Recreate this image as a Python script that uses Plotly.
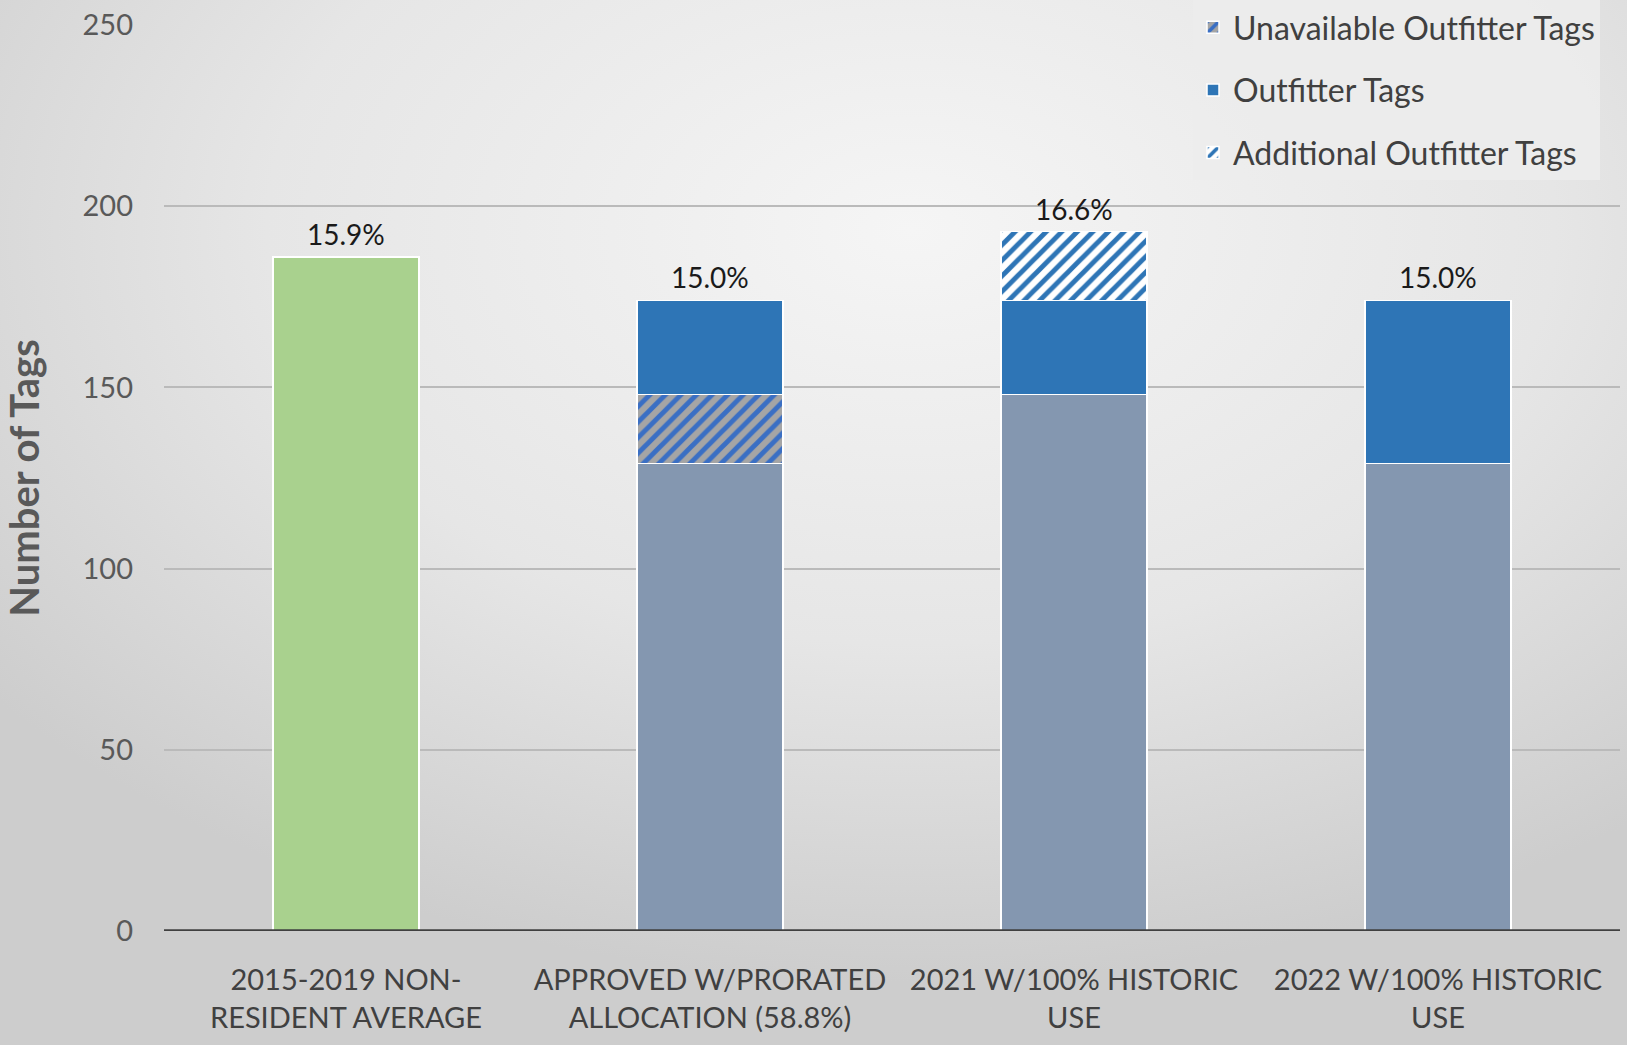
import base64
import plotly.graph_objects as go

# ---- data ----
categories = [
    "2015-2019 NON-<br>RESIDENT AVERAGE",
    "APPROVED W/PRORATED<br>ALLOCATION (58.8%)",
    "2021 W/100% HISTORIC<br>USE",
    "2022 W/100% HISTORIC<br>USE",
]
nonresident_avg = [186, None, None, None]
base_tags = [None, 129, 148, 129]
unavailable_outfitter = [None, 19, None, None]
outfitter_tags = [None, 26, 26, 45]
additional_outfitter = [None, None, 19, None]
pct_labels = ["15.9%", "15.0%", "16.6%", "15.0%"]
y_ticks = [0, 50, 100, 150, 200, 250]

series = [nonresident_avg, base_tags, unavailable_outfitter, outfitter_tags, additional_outfitter]
totals = [sum(s[i] or 0 for s in series) for i in range(len(categories))]

W, H = 1627, 1045
FONT = "Lato"

svg = f"""<svg xmlns='http://www.w3.org/2000/svg' width='{W}' height='{H}' preserveAspectRatio='none'>
<defs><radialGradient id='g' cx='0.56' cy='0.22' r='0.72'>
<stop offset='0' stop-color='#f5f5f5'/><stop offset='0.55' stop-color='#e6e6e6'/><stop offset='1' stop-color='#cdcdcd'/>
</radialGradient></defs><rect width='{W}' height='{H}' fill='url(#g)'/></svg>"""
bg_src = "data:image/svg+xml;base64," + base64.b64encode(svg.encode()).decode()

line = dict(color="white", width=1.5)
fig = go.Figure()
fig.add_bar(x=categories, y=nonresident_avg, marker=dict(color="#a9d18e", line=line),
            showlegend=False, name="2015-2019 Non-Resident Average")
fig.add_bar(x=categories, y=base_tags, marker=dict(color="#8497b0", line=line),
            showlegend=False, name="Tags")
fig.add_bar(x=categories, y=unavailable_outfitter, name="Unavailable Outfitter Tags",
            legendgroup="a",
            marker=dict(color="#a5a5a5", line=line,
                        pattern=dict(shape="/", fgcolor="#3a6fc4", bgcolor="#a5a5a5",
                                     size=11, solidity=0.45, fillmode="replace")))
fig.add_bar(x=categories, y=outfitter_tags, name="Outfitter Tags", legendgroup="b",
            marker=dict(color="#2e75b6", line=line))
fig.add_bar(x=categories, y=additional_outfitter, name="Additional Outfitter Tags",
            legendgroup="c",
            marker=dict(color="white", line=line,
                        pattern=dict(shape="/", fgcolor="#2e75b6", bgcolor="white",
                                     size=11, solidity=0.45, fillmode="replace")))

annotations = [
    dict(x=c, y=t, xref="x", yref="y", text=p, showarrow=False, yanchor="bottom",
         yshift=4, font=dict(family=FONT, size=28, color="#1a1a1a"))
    for c, t, p in zip(categories, totals, pct_labels)
]

fig.update_layout(
    width=W, height=H,
    margin=dict(l=0, r=0, t=0, b=0),
    barmode="stack", bargap=0.6,
    paper_bgcolor="#dedede", plot_bgcolor="rgba(0,0,0,0)",
    font=dict(family=FONT, color="#595959", size=29),
    images=[dict(source=bg_src, xref="paper", yref="paper", x=0, y=1, sizex=1, sizey=1,
                 xanchor="left", yanchor="top", sizing="stretch", layer="below")],
    xaxis=dict(domain=[164 / W, 1620 / W], automargin=False, showgrid=False,
               tickfont=dict(family=FONT, size=29, color="#404040"),
               ticklabelstandoff=29, showline=False, zeroline=False),
    yaxis=dict(domain=[1 - 931 / H, 1 - 25 / H], range=[0, 250], automargin=False,
               tickvals=y_ticks, showgrid=True, gridcolor="#bababa", gridwidth=2,
               zeroline=False, tickfont=dict(family=FONT, size=29, color="#595959"),
               ticklabelstandoff=30,
               title=dict(text="<b>Number of Tags</b>", standoff=36,
                          font=dict(family=FONT, size=40, color="#595959"))),
    legend=dict(x=1193 / W, y=1, xanchor="left", yanchor="top",
                traceorder="grouped", tracegroupgap=18, bgcolor="rgba(236,236,236,0.9)",
                font=dict(family=FONT, size=32, color="#404040")),
    annotations=annotations,
    shapes=[dict(type="line", xref="paper", yref="y", x0=164 / W, x1=1620 / W, y0=0, y1=0,
                 line=dict(color="#404040", width=3.5), layer="above")],
)

fig.write_html("out.html", config={"displayModeBar": False},
               post_script="document.body.style.margin='0';")
